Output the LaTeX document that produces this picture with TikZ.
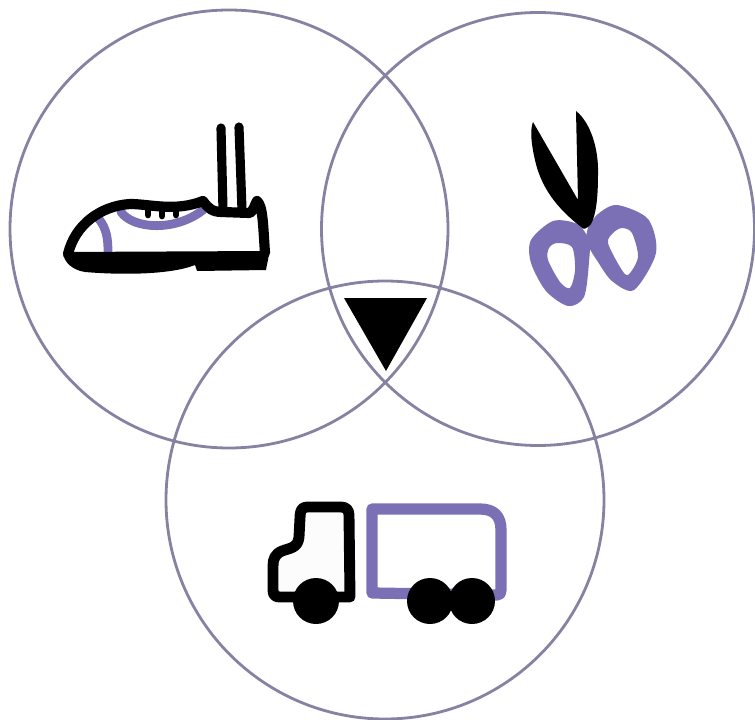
\documentclass[tikz,border=0pt]{standalone}
\usepackage{xcolor}
\definecolor{ringgray}{HTML}{8682A2}
\definecolor{iconviolet}{HTML}{7B70B5}
\tikzset{
  ring/.style={draw=ringgray,line width=1.6pt},
  blackline/.style={draw=black,line width=5.8pt,line cap=round,line join=round},
  violetline/.style={draw=iconviolet,line width=5pt,line cap=round,line join=round},
}
\begin{document}
\begin{tikzpicture}[x=0.02cm,y=-0.02cm]
\useasboundingbox (0,0) rectangle (755,720);
% three rings
\draw[ring] (229,229) circle (219);
\draw[ring] (538,229) circle (216.5);
\draw[ring] (385,500) circle (219);
\fill[black] (344,298) -- (427,298) -- (386,371) -- cycle;
% shoe
\draw[violetline] (98,218) .. controls (107,228) and (108,240) .. (108,252);
\draw[violetline] (121,212) .. controls (133,229) and (175,232) .. (203,210);
\draw[blackline,line width=5.2pt] (221,128) -- (223,210);
\draw[blackline,line width=5.2pt] (239,127) -- (242,210);
\draw[blackline,line width=3.8pt] (148,208) -- (148,215);
\draw[blackline,line width=3.8pt] (162,208) -- (162,216);
\draw[blackline,line width=3.8pt] (176,208) -- (176,215);
\draw[blackline] (68,254) .. controls (75,225) and (100,206) .. (130,204)
  .. controls (150,204) and (175,212) .. (203,201)
  .. controls (208,208) and (212,212) .. (222,212) -- (250,213)
  .. controls (254,210) and (255,204) .. (257,201)
  .. controls (263,206) and (263,225) .. (265,253);
\fill[black] (63,253) .. controls (64,262) and (72,270) .. (85,272)
  .. controls (120,275) and (170,275) .. (195,265) -- (197,271) -- (266,270)
  .. controls (267,263) and (269,258) .. (269,251) -- (64,252) -- cycle;
% scissors
\fill[iconviolet,even odd rule]
  plot[smooth cycle] coordinates {(553,221) (577,224) (589,240) (589,262) (584,297) (568,306) (546,291) (531,263) (531,240)}
  plot[smooth cycle] coordinates {(557,243) (572,247) (575,270) (570,288) (560,282) (548,260) (549,248)};
\fill[iconviolet,even odd rule]
  plot[smooth cycle] coordinates {(588,228) (598,214) (617,205) (648,219) (656,253) (634,290) (612,281) (598,262) (587,243)}
  plot[smooth cycle] coordinates {(622,228) (632,233) (638,257) (628,275) (620,267) (608,243) (613,233)};
\fill[black] (533,122) -- (578,200) -- (576,111)
  .. controls (590,122) and (599,148) .. (598,175)
  .. controls (598,198) and (596,215) .. (591,224)
  .. controls (587,229) and (583,230) .. (581,227)
  .. controls (562,212) and (542,192) .. (535,160)
  .. controls (531,143) and (530,130) .. (533,122) -- cycle;
% truck
\draw[violetline,line width=6.4pt] (372,509) -- (372,593) -- (497,595)
  .. controls (500,595) and (501,593) .. (501,590) -- (501,530)
  .. controls (501,516) and (494,509) .. (480,509) -- cycle;
\draw[blackline,line width=6.2pt,fill=black!1] (350,597) -- (349,515)
  .. controls (349,510) and (346,507) .. (341,507) -- (307,507)
  .. controls (301,507) and (300,512) .. (300,518) -- (299,537)
  .. controls (298,548) and (290,548) .. (282,551)
  .. controls (275,554) and (273,559) .. (273,566) -- (273,590)
  .. controls (273,595) and (275,597) .. (280,597) -- cycle;
\fill[black] (316,601) circle (23);
\fill[black] (430,601) circle (23);
\fill[black] (472,601) circle (23);
\end{tikzpicture}
\end{document}
